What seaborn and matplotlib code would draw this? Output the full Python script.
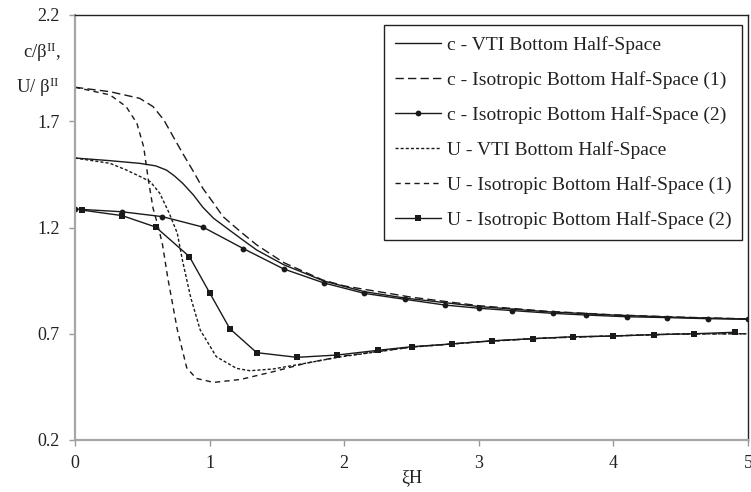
import numpy as np
import pandas as pd
import matplotlib
matplotlib.use("Agg")
import matplotlib.pyplot as plt
import seaborn as sns

# c - VTI bottom half-space
c_vti_x = [0, 0.25, 0.48, 0.6, 0.68, 0.74, 0.8, 0.88, 0.95, 1.03, 1.13, 1.23, 1.35, 1.55,
           1.85, 2.15, 2.45, 3.0, 3.5, 4.0, 4.5, 5.0]
c_vti_y = [1.527, 1.515, 1.502, 1.49, 1.47, 1.442, 1.408, 1.353, 1.295, 1.243, 1.196, 1.149,
           1.094, 1.025, 0.948, 0.898, 0.868, 0.828, 0.804, 0.788, 0.777, 0.769]

# c - isotropic bottom half-space (1)
c_iso1_x = [0, 0.26, 0.48, 0.58, 0.66, 0.73, 0.8, 0.88, 0.95, 1.03, 1.1, 1.23, 1.35, 1.55,
            1.84, 2.0, 2.5, 3.0, 3.5, 4.0, 4.5, 5.0]
c_iso1_y = [1.86, 1.839, 1.808, 1.769, 1.706, 1.627, 1.549, 1.463, 1.384, 1.314, 1.251, 1.18,
            1.118, 1.035, 0.953, 0.925, 0.872, 0.832, 0.806, 0.789, 0.778, 0.77]

# c - isotropic bottom half-space (2)
c_iso2_x = [0, 0.35, 0.65, 0.95, 1.25, 1.55, 1.85, 2.15, 2.45, 2.75, 3.0, 3.25, 3.55, 3.8,
            4.1, 4.4, 4.7, 5.0]
c_iso2_y = [1.287, 1.274, 1.251, 1.202, 1.101, 1.005, 0.939, 0.89, 0.862, 0.835, 0.82, 0.809,
            0.796, 0.788, 0.78, 0.776, 0.771, 0.768]

# U - VTI bottom half-space
u_vti_x = [0, 0.26, 0.38, 0.5, 0.56, 0.63, 0.7, 0.76, 0.8, 0.86, 0.93, 1.05, 1.2, 1.3, 1.47,
           1.72, 1.97, 2.5, 3.0, 3.5, 4.0, 4.5, 5.0]
u_vti_y = [1.527, 1.502, 1.471, 1.435, 1.415, 1.361, 1.267, 1.173, 1.04, 0.87, 0.718, 0.592,
           0.537, 0.526, 0.534, 0.562, 0.591, 0.637, 0.662, 0.68, 0.69, 0.699, 0.70]

# U - isotropic bottom half-space (1)
u_iso1_x = [0, 0.26, 0.38, 0.46, 0.51, 0.545, 0.58, 0.62, 0.65, 0.69, 0.76, 0.83, 0.9, 1.03,
            1.23, 1.47, 1.72, 2.0, 2.5, 3.0, 3.5, 4.0, 4.5, 5.0]
u_iso1_y = [1.86, 1.824, 1.769, 1.69, 1.58, 1.424, 1.29, 1.2, 1.12, 0.96, 0.72, 0.54, 0.49,
            0.471, 0.485, 0.521, 0.562, 0.596, 0.637, 0.662, 0.68, 0.69, 0.699, 0.70]

# U - isotropic bottom half-space (2)
u_iso2_x = [0.05, 0.35, 0.6, 0.85, 1.0, 1.15, 1.35, 1.65, 1.95, 2.25, 2.5, 2.8, 3.1, 3.4,
            3.7, 4.0, 4.3, 4.6, 4.9]
u_iso2_y = [1.282, 1.256, 1.202, 1.063, 0.893, 0.724, 0.611, 0.589, 0.60, 0.622, 0.639,
            0.652, 0.667, 0.677, 0.686, 0.689, 0.696, 0.70, 0.707]

labels = ["c - VTI Bottom Half-Space",
          "c - Isotropic Bottom Half-Space (1)",
          "c - Isotropic Bottom Half-Space (2)",
          "U - VTI Bottom Half-Space",
          "U - Isotropic Bottom Half-Space (1)",
          "U - Isotropic Bottom Half-Space (2)"]

sns.set_style("white")
plt.rcParams["font.family"] = ["Liberation Serif", "DejaVu Serif"]
plt.rcParams["mathtext.fontset"] = "custom"
plt.rcParams["mathtext.rm"] = "Liberation Serif"
plt.rcParams["mathtext.it"] = "Liberation Serif:italic"

fig = plt.figure(figsize=(7.51, 4.92), dpi=100)
ax = fig.add_axes([75 / 751, 1 - 440 / 492, 673 / 751, 425 / 492])

k = "#1a1a1a"
sns.lineplot(x=c_vti_x, y=c_vti_y, ax=ax, color=k, lw=1.0, label=labels[0])
sns.lineplot(x=c_iso1_x, y=c_iso1_y, ax=ax, color=k, lw=1.0,
             linestyle=(0, (6, 3)), label=labels[1])
sns.lineplot(x=c_iso2_x, y=c_iso2_y, ax=ax, color=k, lw=1.0, marker="o",
             markersize=4.2, markeredgecolor=k, markeredgewidth=0, label=labels[2])
sns.lineplot(x=u_vti_x, y=u_vti_y, ax=ax, color=k, lw=1.0,
             linestyle=(0, (2.2, 1.5)), label=labels[3])
sns.lineplot(x=u_iso1_x, y=u_iso1_y, ax=ax, color=k, lw=1.0,
             linestyle=(0, (3.8, 3)), label=labels[4])
sns.lineplot(x=u_iso2_x, y=u_iso2_y, ax=ax, color=k, lw=1.0, marker="s",
             markersize=5, markeredgecolor=k, markeredgewidth=0, label=labels[5])

ax.set_xlim(0, 5)
ax.set_ylim(0.2, 2.2)
ax.set_xticks([0, 1, 2, 3, 4, 5])
ax.set_yticks([0.2, 0.7, 1.2, 1.7, 2.2])
ax.set_yticklabels(["0.2", "0.7", "1.2", "1.7", "2.2"])
ax.tick_params(axis="both", which="major", direction="out", length=4, width=1,
               color="#999999", labelsize=13, labelcolor="#222222", pad=7)
ax.tick_params(axis="y", left=True)
ax.tick_params(axis="x", bottom=True)

for side in ["left", "bottom"]:
    ax.spines[side].set_color("#a6a6a6")
    ax.spines[side].set_linewidth(1.6)
for side in ["top", "right"]:
    ax.spines[side].set_color("#222222")
    ax.spines[side].set_linewidth(1.0)

ax.set_xlabel("\u03beH", fontsize=13, color="#222222", labelpad=-2)
ax.set_ylabel("")
fig.text(61 / 751, 1 - 52 / 492, r"c/β$^{\mathrm{II}}$,", ha="right", va="center",
         fontsize=13.5, color="#222222")
fig.text(59 / 751, 1 - 87 / 492, r"U/ β$^{\mathrm{II}}$", ha="right", va="center",
         fontsize=13.5, color="#222222")

leg = ax.legend(loc="upper right", bbox_to_anchor=(0.991, 0.976), fontsize=14,
                frameon=True, fancybox=False, framealpha=1, edgecolor="#222222",
                handlelength=2.4, handletextpad=0.27, labelspacing=0.88,
                borderpad=0.55, borderaxespad=0, numpoints=1)
leg.get_frame().set_linewidth(1.0)
for t in leg.get_texts():
    t.set_color("#222222")

fig.savefig("out.png", dpi=100)
